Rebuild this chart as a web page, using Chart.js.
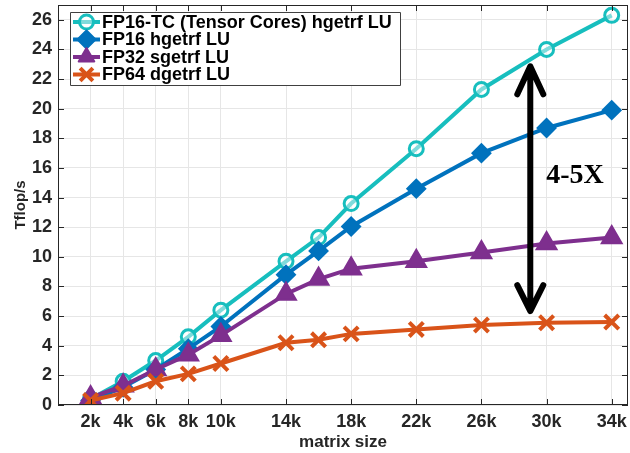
<!DOCTYPE html>
<html>
<head>
<meta charset="utf-8">
<script src="https://cdn.jsdelivr.net/npm/chart.js@4"></script>
<style>
  html, body { margin: 0; padding: 0; background: #fff; }
  #wrap { width: 630px; height: 453px; }
</style>
</head>
<body>
<div id="wrap"><canvas id="luChart" width="630" height="453"></canvas></div>
<script>
// matrix size (k) and Tflop/s per precision
const sizes = [2, 4, 6, 8, 10, 14, 16, 18, 22, 26, 30, 34];
const fp16tc = [0.4, 1.6, 3.0, 4.6, 6.4, 9.7, 11.3, 13.6, 17.3, 21.3, 24.0, 26.3];
const fp16 = [0.3, 1.2, 2.4, 3.8, 5.3, 8.8, 10.4, 12.05, 14.6, 17.0, 18.7, 19.9];
const fp32 = [0.5, 1.3, 2.4, 3.4, 4.7, 7.5, 8.5, 9.2, 9.7, 10.3, 10.9, 11.3];
const fp64 = [0.3, 0.8, 1.6, 2.1, 2.8, 4.2, 4.4, 4.8, 5.1, 5.4, 5.55, 5.6];

const xTicks = [2, 4, 6, 8, 10, 14, 18, 22, 26, 30, 34];
const yTicks = [0, 2, 4, 6, 8, 10, 12, 14, 16, 18, 20, 22, 24, 26];

const labels = ['FP16-TC (Tensor Cores) hgetrf LU', 'FP16 hgetrf LU', 'FP32 sgetrf LU', 'FP64 dgetrf LU'];

// speedup arrow (x in k, y in Tflop/s)
const arrowX = 29.0;
const arrowLow = 6.2;
const arrowHigh = 23.0;
const arrowText = '4-5X';
const arrowTextPos = [31.75, 15.5];

const axisColor = '#262626';
const tickFont = { family: 'Liberation Sans', size: 18, weight: 'bold' };

function pts(ys) {
  return sizes.map((x, i) => ({ x: x, y: ys[i] }));
}

const styles = [
  { color: '#17BEBE', fill: 'rgba(255,255,255,0.45)', point: 'circle', r: 7, bw: 3 },
  { color: '#0072BD', fill: '#0072BD', point: 'rectRot', r: 9, bw: 2 },
  { color: '#7E2F8E', fill: '#7E2F8E', point: 'triangle', r: 11.5, bw: 2 },
  { color: '#D95319', fill: '#D95319', point: 'crossRot', r: 10, bw: 4 }
];
const series = [fp16tc, fp16, fp32, fp64];

// box, inner tick marks, legend and arrow drawn on top
const extras = {
  id: 'extras',
  afterDatasetsDraw(chart) {
    const c = chart.ctx;
    const a = chart.chartArea;
    const xs = chart.scales.x, ys = chart.scales.y;
    c.save();
    // frame
    c.strokeStyle = axisColor;
    c.lineWidth = 1;
    c.strokeRect(a.left + 0.5, a.top + 0.5, a.right - a.left - 1, a.bottom - a.top - 1);
    // inward tick marks
    c.beginPath();
    xTicks.forEach(v => {
      const px = Math.round(xs.getPixelForValue(v)) + 0.5;
      c.moveTo(px, a.bottom); c.lineTo(px, a.bottom - 6);
      c.moveTo(px, a.top); c.lineTo(px, a.top + 6);
    });
    yTicks.forEach(v => {
      const py = Math.round(ys.getPixelForValue(v)) + 0.5;
      c.moveTo(a.left, py); c.lineTo(a.left + 6, py);
      c.moveTo(a.right, py); c.lineTo(a.right - 6, py);
    });
    c.stroke();

    // arrow
    const ax = xs.getPixelForValue(arrowX);
    const yTop = ys.getPixelForValue(arrowHigh);
    const yBot = ys.getPixelForValue(arrowLow);
    c.strokeStyle = '#000';
    c.lineWidth = 6;
    c.lineCap = 'round';
    c.lineJoin = 'round';
    c.beginPath();
    c.moveTo(ax, yTop + 3); c.lineTo(ax, yBot - 3);
    c.moveTo(ax - 13, yTop + 30); c.lineTo(ax, yTop + 2); c.lineTo(ax + 13, yTop + 30);
    c.moveTo(ax - 13, yBot - 28); c.lineTo(ax, yBot - 2); c.lineTo(ax + 13, yBot - 28);
    c.stroke();
    c.fillStyle = '#000';
    c.font = 'bold 28px "Liberation Serif"';
    c.textAlign = 'center';
    c.textBaseline = 'middle';
    c.fillText(arrowText, xs.getPixelForValue(arrowTextPos[0]), ys.getPixelForValue(arrowTextPos[1]));

    // legend
    const lx = a.left + 12, ly = a.top + 7, lw = 330, rowH = 17.5, lh = rowH * labels.length + 3;
    c.fillStyle = '#fff';
    c.fillRect(lx, ly, lw, lh);
    c.strokeStyle = '#404040';
    c.lineWidth = 1;
    c.lineCap = 'butt';
    c.strokeRect(lx + 0.5, ly + 0.5, lw, lh);
    labels.forEach((t, i) => {
      const s = styles[i];
      const cy = ly + 10 + i * rowH;
      c.strokeStyle = s.color;
      c.lineWidth = 4;
      c.beginPath();
      c.moveTo(lx + 3, cy); c.lineTo(lx + 30, cy);
      c.stroke();
      c.fillStyle = s.fill;
      c.strokeStyle = s.color;
      c.lineWidth = s.bw;
      Chart.helpers.drawPoint(c, { pointStyle: s.point, radius: Math.min(s.r, 9), borderWidth: s.bw, rotation: 0 }, lx + 16.5, cy);
      c.fillStyle = '#000';
      c.font = 'bold 18px "Liberation Sans"';
      c.textAlign = 'left';
      c.textBaseline = 'middle';
      c.fillText(t, lx + 32, cy + 1);
    });
    c.restore();
  }
};

new Chart(document.getElementById('luChart'), {
  type: 'line',
  data: {
    datasets: series.map((ys, i) => ({
      label: labels[i],
      data: pts(ys),
      borderColor: styles[i].color,
      backgroundColor: styles[i].fill,
      pointBorderColor: styles[i].color,
      pointBackgroundColor: styles[i].fill,
      pointStyle: styles[i].point,
      pointRadius: styles[i].r,
      pointBorderWidth: styles[i].bw,
      borderWidth: 4,
      tension: 0,
      fill: false
    })).reverse()
  },
  options: {
    responsive: false,
    animation: false,
    layout: { autoPadding: false, padding: { left: 0, right: 2, top: 5, bottom: 0 } },
    plugins: {
      legend: { display: false },
      tooltip: { enabled: false }
    },
    scales: {
      x: {
        type: 'linear',
        min: 0,
        max: 35,
        afterBuildTicks: s => { s.ticks = xTicks.map(v => ({ value: v })); },
        afterFit: s => { s.height = 48; s.paddingLeft = 0; s.paddingRight = 0; },
        grid: { color: '#e6e6e6', drawTicks: false },
        border: { display: false },
        ticks: {
          color: axisColor,
          font: tickFont,
          padding: 6,
          maxRotation: 0,
          callback: v => v + 'k'
        },
        title: {
          display: true,
          text: 'matrix size',
          color: axisColor,
          font: { family: 'Liberation Sans', size: 17, weight: 'bold' },
          padding: { top: -3, bottom: 0 }
        }
      },
      y: {
        min: 0,
        max: 27,
        afterBuildTicks: s => { s.ticks = yTicks.map(v => ({ value: v })); },
        afterFit: s => { s.width = 58; s.paddingTop = 0; s.paddingBottom = 0; },
        grid: { color: '#e6e6e6', drawTicks: false },
        border: { display: false },
        ticks: {
          color: axisColor,
          font: tickFont,
          padding: 6
        },
        title: {
          display: true,
          text: 'Tflop/s',
          color: axisColor,
          font: { family: 'Liberation Sans', size: 15, weight: 'bold' },
          padding: { top: 12, bottom: 0 }
        }
      }
    }
  },
  plugins: [extras]
});
</script>
</body>
</html>
